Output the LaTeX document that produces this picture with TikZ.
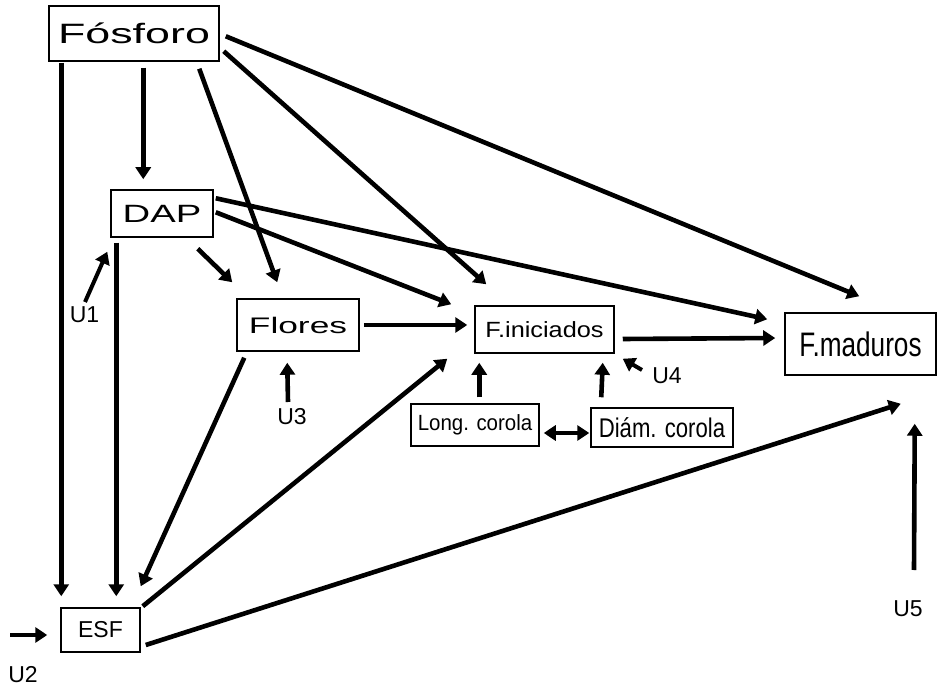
\documentclass[tikz,border=0pt]{standalone}
\usepackage{fontspec}
\setmainfont{Liberation Sans}
\usepackage{graphicx}
\usetikzlibrary{arrows.meta,calc}
\tikzset{
  box/.style={draw, line width=1.5pt, inner sep=0pt, anchor=center},
  arr/.style={line width=4.6pt, -{Triangle[length=12pt,width=15pt]}},
  darr/.style={line width=4.6pt, {Triangle[length=12pt,width=15pt]}-{Triangle[length=12pt,width=15pt]}},
  lbl/.style={inner sep=0pt, anchor=center, font=\fontsize{23}{23}\selectfont},
}
\newcommand{\wtext}[3]{\scalebox{#2}[1]{\fontsize{#1}{#1}\selectfont #3}}
\begin{document}
\begin{tikzpicture}[x=1pt,y=-1pt]
\useasboundingbox (0,0) rectangle (938,687);
% boxes
\node[box, minimum width=170pt, minimum height=55pt] (fos) at (134,33.5) {\wtext{28}{1.6}{Fósforo}};
\node[box, minimum width=102pt, minimum height=47pt] (dap) at (162,213.5) {\wtext{25}{1.53}{DAP}};
\node[box, minimum width=122pt, minimum height=52pt] (flo) at (298,325) {\wtext{22.5}{1.57}{Flores}};
\node[box, minimum width=139pt, minimum height=47pt] (fin) at (544.5,329.5) {\wtext{22}{1.15}{F.iniciados}};
\node[box, minimum width=128pt, minimum height=42pt] (lon) at (475,425) {\wtext{22}{0.93}{Long. corola}};
\node[box, minimum width=142pt, minimum height=39pt] (dia) at (662,427.5) {\wtext{27}{0.82}{Diám. corola}};
\node[box, minimum width=151pt, minimum height=62pt] (fma) at (860.5,344) {\wtext{34}{0.77}{F.maduros}};
\node[box, minimum width=79pt, minimum height=44pt] (esf) at (100.5,630) {\wtext{23}{1}{ESF}};
% error labels
\node[lbl] (u1) at (84.5,315) {U1};
\node[lbl] (u2) at (23,675) {U2};
\node[lbl] (u3) at (292,417) {U3};
\node[lbl] (u4) at (667,376) {U4};
\node[lbl] (u5) at (908,609) {U5};
% connectors from Fosforo
\draw[arr] ($(fos.south west)+(13,1)$) -- ($(esf.north west)+(1,-11)$);
\draw[arr] ($(fos.south west)+(95,6)$) -- ($(dap.north west)+(33,-10)$);
\draw[arr] ($(fos.south west)+(151,7)$) -- ($(flo.north west)+(41,-16)$);
\draw[arr] ($(fos.north east)+(4,46)$) -- ($(fin.north west)+(12,-21)$);
\draw[arr] ($(fos.north east)+(6,31)$) -- ($(fma.north west)+(75,-16)$);
% from DAP
\draw[arr] ($(dap.south west)+(6,5)$) -- ($(esf.north west)+(56,-11)$);
\draw[arr] ($(dap.south east)+(-16,11)$) -- ($(flo.north west)+(-4,-16)$);
\draw[arr] ($(dap.north east)+(2,23)$) -- ($(fin.north west)+(-23,-1)$);
\draw[arr] ($(dap.north east)+(2,9)$) -- ($(fma.north west)+(-17,7)$);
% from Flores
\draw[arr] ($(flo.east)+(4,0)$) -- ($(fin.west)+(-7,-4.5)$);
\draw[arr] ($(flo.south west)+(8,6)$) -- ($(esf.north east)+(0,-21)$);
% from ESF
\draw[arr] ($(esf.north east)+(2,-1)$) -- ($(fin.south west)+(-27,5)$);
\draw[arr] ($(esf.east)+(5,15)$) -- ($(fma.south east)+(-36,28)$);
% F.iniciados -> F.maduros
\draw[arr] ($(fin.east)+(8,9.5)$) -- ($(fma.west)+(-9,-6)$);
% corolla
\draw[arr] ($(lon.north west)+(69,-6)$) -- ($(fin.south west)+(5,9)$);
\draw[arr] ($(dia.north west)+(11,-10)$) -- ($(fin.south east)+(-12,9)$);
\draw[darr] ($(lon.east)+(4,8)$) -- ($(dia.west)+(-1,5.5)$);
% error arrows
\draw[arr, line width=4pt] ($(u1.center)+(0.5,-13)$) -- ($(dap.south west)+(-3,14)$);
\draw[arr] ($(u2.center)+(-13,-40)$) -- ($(esf.west)+(-13,5)$);
\draw[arr] ($(u3.center)+(-4,-15)$) -- ($(flo.south west)+(51,11)$);
\draw[arr, line width=4pt] ($(u4.center)+(-25,-6)$) -- ($(fin.south east)+(8,5)$);
\draw[arr] ($(u5.center)+(6,-39)$) -- ($(fma.south east)+(-22,48)$);
\end{tikzpicture}
\end{document}
